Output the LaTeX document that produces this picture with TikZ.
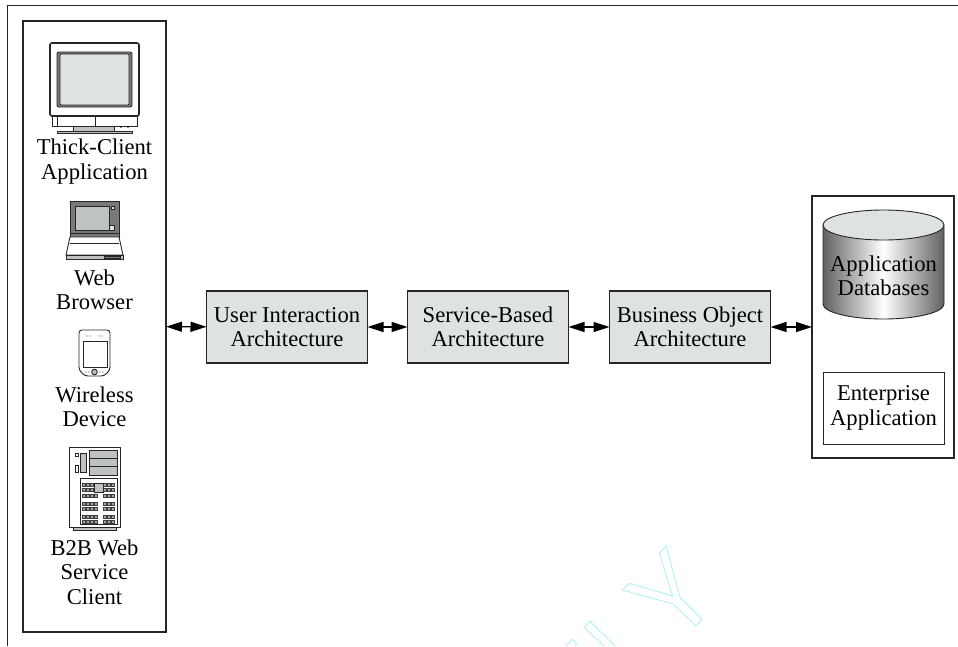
\documentclass[tikz,border=0pt]{standalone}
\usepackage{fontspec}
\setmainfont{Liberation Serif}
\usetikzlibrary{positioning,arrows.meta}
\definecolor{boxgray}{RGB}{222,226,226}
\definecolor{icongray}{RGB}{190,194,194}
\definecolor{icondark}{RGB}{120,122,122}
\definecolor{stampblue}{RGB}{170,238,245}
\tikzset{
  archbox/.style={draw=black!85, line width=1.4pt, fill=boxgray, minimum width=161pt, minimum height=72pt,
    align=center, outer sep=0pt, font=\fontsize{22.6}{24.5}\selectfont},
  groupbox/.style={draw=black!85, line width=1.4pt, outer sep=0pt},
  iconlabel/.style={align=center, inner sep=0pt, font=\fontsize{22.6}{24.5}\selectfont},
  icon/.style={draw=black!85, line width=0.9pt},
  stamp/.style={draw=stampblue, line width=0.8pt},
  link/.style={{Stealth[length=16pt,width=10pt,inset=0pt]}-{Stealth[length=16pt,width=10pt,inset=0pt]}, line width=1.2pt, black}
}
\begin{document}
\begin{tikzpicture}[x=1pt, y=-1pt]
  \useasboundingbox (0,0) rectangle (958,646);
  % page frame
  \coordinate (framea) at (7,646);
  \coordinate (frameb) at (7,5);
  \coordinate (framec) at (958,5);
  \draw[black!85, line width=1pt] (framea) -- (frameb) -- (framec);

  % the two groups and the three layers
  \node (clients) [groupbox, minimum width=143pt, minimum height=611pt] at (94.5,326.5) {};
  \node (backend) [groupbox, minimum width=142pt, minimum height=262pt] at (883,327) {};
  \node (uia) [archbox] at (287,327) {User Interaction\\Architecture};
  \node (sba) [archbox, right=40pt of uia] {Service-Based\\Architecture};
  \node (boa) [archbox, right=41pt of sba] {Business Object\\Architecture};
  \path[link]
  (clients) edge (uia)
  (uia) edge (sba)
  (sba) edge (boa)
  (boa) edge (backend);

  % thick client
  \draw[icon, fill=white] (52,116) rectangle (137,126);
  \draw[icon, line width=0.6pt] (57,116) rectangle (95,126);
  \draw[icon, fill=icongray] (73,126) rectangle (114,131);
  \draw[icon, fill=icongray, line width=0.6pt] (57,131) rectangle (132,133);
  \fill (121,127) circle (0.8) (128,127) circle (0.8);
  \draw[icon, line width=1.6pt, fill=white, rounded corners=2pt] (50,43) rectangle (139,116);
  \draw[icon, fill=icondark, rounded corners=2pt] (57,52) rectangle (132,107);
  \draw[icon, fill=boxgray, rounded corners=1pt] (60,54) rectangle (129,105);
  \node (thick) [iconlabel] at (94.5,161.5) {Thick-Client\\Application};

  % web browser
  \draw[icon, fill=icondark] (70,201) rectangle (119,237);
  \draw[icon, fill=icongray, line width=0.6pt] (75,206) rectangle (109,230);
  \draw[icon, fill=boxgray, line width=0.6pt] (111,206) rectangle (114,209);
  \draw[icon, fill=boxgray, line width=0.6pt] (109,225) rectangle (114,230);
  \draw[icon, line width=0.6pt] (70,233) -- (119,233);
  \draw[icon, fill=white] (70,237) -- (119,237) -- (123,255) -- (66,255) -- cycle;
  \draw[icon, line width=0.6pt] (70,243) -- (119,243);
  \draw[icon, fill=icongray] (66,255) rectangle (123,259);
  \draw[icon, fill=icondark, line width=0.4pt] (104,256) rectangle (120,258);
  \node (web) [iconlabel] at (94.5,290) {Web\\Browser};

  % wireless device
  \draw[icon, fill=white, rounded corners=3pt] (79,330) -- (110,330) -- (110,370) -- (104,376) -- (85,376) -- (79,370) -- cycle;
  \draw[icon, line width=0.5pt] (83,341) rectangle (107,367);
  \fill[black!70] (87,336) circle (0.7) (90,336) circle (0.7) (99,336) circle (0.7) (102,336) circle (0.7);
  \fill[black!70] (86,372) circle (0.7) (89,372) circle (0.7) (100,372) circle (0.7) (103,372) circle (0.7);
  \draw[icon, fill=icongray] (94.5,372) circle (2.8);
  \node (device) [iconlabel] at (94.5,407) {Wireless\\Device};

  % b2b client
  \draw[icon, fill=white] (69,447) rectangle (120,527);
  \draw[icon, fill=icongray] (73,527) rectangle (116,530.5);
  \draw[icon, fill=icongray] (89,450) rectangle (117,475);
  \draw[icon, line width=0.6pt] (89,458.5) -- (117,458.5) (89,466.5) -- (117,466.5);
  \draw[icon, fill=icongray, line width=0.6pt] (80,453) rectangle (86,472);
  \draw[icon, line width=0.6pt] (75,453) rectangle (78,456) (75,465) rectangle (78,472);
  \draw[icon, fill=white] (80,478) rectangle (117,524);
  \foreach \row in {483,488,494,502,507,515,520}
    \foreach \col in {82,86,90,94,103,107,111}
      \draw[black!75, fill=black!35, line width=0.5pt] (\col,\row) rectangle ++(3,3);
  \draw[icon, fill=icongray, line width=0.6pt] (94,483) rectangle (103,492);
  \node (btob) [iconlabel] at (94.5,572) {B2B Web\\Service\\Client};

  % application databases
  \shade[left color=black!62, right color=black!62, middle color=white]
    (823,225) -- (823,304) arc[start angle=180, end angle=0, x radius=60.5, y radius=15]
    -- (944,225) arc[start angle=0, end angle=-180, x radius=60.5, y radius=15];
  \draw[icon] (823,225) -- (823,304) arc[start angle=180, end angle=0, x radius=60.5, y radius=15] -- (944,225);
  \draw[icon, fill=boxgray] (883.5,225) ellipse[x radius=60.5, y radius=15];
  \node (appdb) [iconlabel] at (883.5,276) {Application\\Databases};
  \node (entapp) [draw=black!85, line width=0.9pt, minimum width=121pt, minimum height=72pt, outer sep=0pt, iconlabel] at (883.5,408) {Enterprise\\Application};

  % stamp across the corner
  \draw[stamp] (659.3,553.3) -- (666,546) -- (680,597.3) -- (702,619.3) -- (695.7,626) -- (673.3,604) -- (622.3,590) -- (629.3,583.3) -- (672.7,596) -- cycle;
  \draw[stamp] (604,646) -- (584.3,627.7) -- (590,621.3) -- (615,646);
  \draw[stamp] (566,646) -- (572,639.3) -- (576.7,643.3) -- (575,646);
\end{tikzpicture}
\end{document}
